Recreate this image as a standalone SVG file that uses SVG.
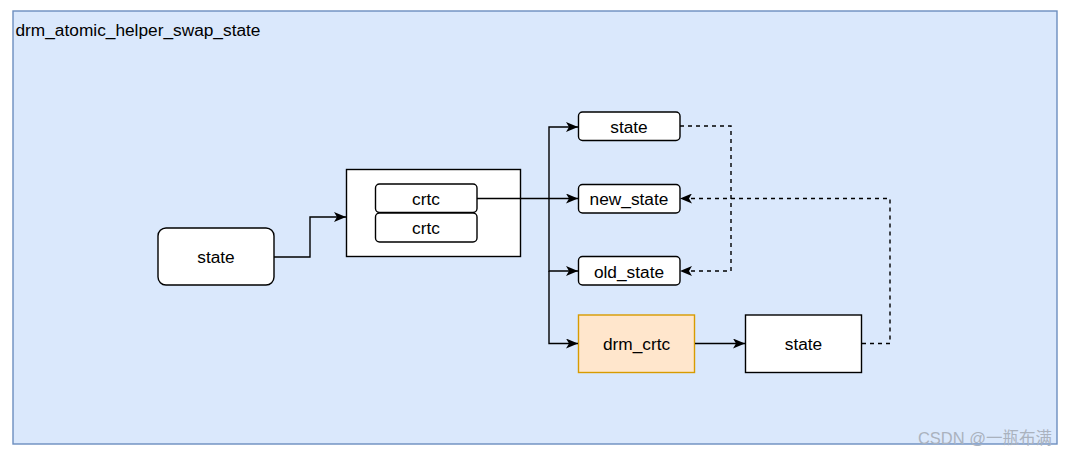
<svg xmlns="http://www.w3.org/2000/svg" width="1067" height="457" viewBox="0 0 1067 457">
<defs>
<style>
text{font-family:"Liberation Sans",Arial,sans-serif;font-size:17.3px;fill:#000;text-anchor:middle;dominant-baseline:central}
.box{fill:#fff;stroke:#000;stroke-width:1.4}
.e{fill:none;stroke:#000;stroke-width:1.4}
.d{fill:none;stroke:#000;stroke-width:1.4;stroke-dasharray:4 4}
</style>
<marker id="ar" viewBox="0 0 12 10" refX="12" refY="5" markerWidth="12" markerHeight="10" markerUnits="userSpaceOnUse" orient="auto">
<path d="M0,0 L12,5 L0,10 L3,5 Z" fill="#000"/>
</marker>
</defs>
<rect width="1067" height="457" fill="#fff"/>
<g id="container">
<rect x="13" y="11" width="1044" height="433" fill="#dae8fc" stroke="#6c8ebf" stroke-width="1.4"/>
<text x="15.5" y="30" style="text-anchor:start">drm_atomic_helper_swap_state</text>
</g>
<g id="state-left">
<rect class="box" x="158" y="228" width="116" height="57" rx="8"/>
<text x="216" y="257">state</text>
</g>
<g id="crtc-array">
<rect class="box" x="346.5" y="169.5" width="174" height="87"/>
</g>
<g id="crtc1">
<rect class="box" x="375.5" y="184" width="101.5" height="28.5" rx="4"/>
<text x="426" y="198.5">crtc</text>
</g>
<g id="crtc2">
<rect class="box" x="375.5" y="213" width="101.5" height="29" rx="4"/>
<text x="426" y="228">crtc</text>
</g>
<g id="state-top">
<rect class="box" x="578.5" y="112" width="101.5" height="28.5" rx="4"/>
<text x="629" y="127">state</text>
</g>
<g id="new-state">
<rect class="box" x="578.5" y="184.5" width="101.5" height="28.5" rx="4"/>
<text x="629" y="199">new_state</text>
</g>
<g id="old-state">
<rect class="box" x="578.5" y="256.5" width="101.5" height="28.5" rx="4"/>
<text x="629" y="271.5">old_state</text>
</g>
<g id="drm-crtc">
<rect x="578.5" y="315" width="116" height="57.5" fill="#ffe6cc" stroke="#d79b00" stroke-width="1.4"/>
<text x="636.5" y="344">drm_crtc</text>
</g>
<g id="state-right">
<rect class="box" x="745.5" y="315" width="116" height="57.5"/>
<text x="803.5" y="344">state</text>
</g>
<g id="connectors">
<path class="e" d="M274,257 H310 V217 H346" marker-end="url(#ar)"/>
<path class="e" d="M477,198.5 H578" marker-end="url(#ar)"/>
<path class="e" d="M549,198.5 V127 H578" marker-end="url(#ar)"/>
<path class="e" d="M549,198.5 V271 H578" marker-end="url(#ar)"/>
<path class="e" d="M549,271 V343.5 H578" marker-end="url(#ar)"/>
<path class="e" d="M695,343.5 H745" marker-end="url(#ar)"/>
<path class="d" d="M680,126 H731 V271 H680" marker-end="url(#ar)"/>
<path class="d" d="M862,343.5 H890 V198.5 H680" marker-end="url(#ar)"/>
</g>
<g id="watermark">
<text x="1052" y="438" style="text-anchor:end;font-size:16.5px;fill:#aab2be;font-family:'Liberation Sans','Noto Sans CJK SC',sans-serif">CSDN @一瓶布满</text>
</g>
</svg>
